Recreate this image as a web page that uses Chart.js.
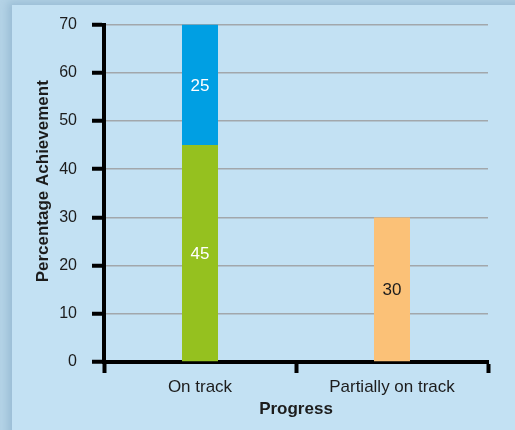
<!DOCTYPE html>
<html>
<head>
<meta charset="utf-8">
<script src="https://cdn.jsdelivr.net/npm/chart.js@4/dist/chart.umd.min.js"></script>
<style>
  html, body { margin: 0; padding: 0; }
  body { width: 515px; height: 430px; background: #b4d3e6; position: relative; overflow: hidden; }
  #panel { position: absolute; left: 12px; top: 5px; width: 520px; height: 440px; background: #c3e1f3;
           box-shadow: -4px -3px 8px rgba(120,160,190,0.45); }
  #wrap { position: absolute; left: 0; top: 0; width: 515px; height: 430px; }
</style>
</head>
<body>
<div id="panel"></div>
<div id="wrap"><canvas id="c" width="515" height="430"></canvas></div>
<script>
const categories = ['On track', 'Partially on track'];
const onTrackBase = [45, null];
const onTrackTop = [25, null];
const partial = [null, 30];
const yTicks = [0, 10, 20, 30, 40, 50, 60, 70];
const yTitle = 'Percentage Achievement';
const xTitle = 'Progress';

const FONT = '"Liberation Sans", Arial, Helvetica, sans-serif';
const TEXT = '#1c1c1c';

// Writes each segment's value in the middle of its bar
const barLabels = {
  id: 'barLabels',
  afterDatasetsDraw(chart) {
    const ctx = chart.ctx;
    ctx.save();
    ctx.font = '17px ' + FONT;
    ctx.textAlign = 'center';
    ctx.textBaseline = 'middle';
    chart.data.datasets.forEach((ds, i) => {
      const meta = chart.getDatasetMeta(i);
      meta.data.forEach((bar, j) => {
        const v = ds.data[j];
        if (v == null) return;
        const cy = (bar.y + bar.base) / 2;
        ctx.fillStyle = ds.labelColor;
        ctx.fillText(String(v), bar.x, cy + 1);
      });
    });
    ctx.restore();
  }
};

// Vertical axis title, sitting a little above the middle of the value axis
const sideTitle = {
  id: 'sideTitle',
  afterDraw(chart) {
    const y = chart.scales.y;
    const ctx = chart.ctx;
    ctx.save();
    ctx.font = 'bold 17px ' + FONT;
    ctx.fillStyle = TEXT;
    ctx.textAlign = 'center';
    ctx.textBaseline = 'middle';
    ctx.translate(y.left + 10, y.getPixelForValue(37.5));
    ctx.rotate(-Math.PI / 2);
    ctx.fillText(yTitle, 0, 0);
    ctx.restore();
  }
};

new Chart(document.getElementById('c'), {
  type: 'bar',
  data: {
    labels: categories,
    datasets: [
      { data: onTrackBase, backgroundColor: '#95c11f', labelColor: '#ffffff' },
      { data: onTrackTop, backgroundColor: '#009fe3', labelColor: '#ffffff' },
      { data: partial, backgroundColor: '#fbc177', labelColor: TEXT }
    ]
  },
  options: {
    responsive: false,
    animation: false,
    devicePixelRatio: 1,
    layout: { padding: { top: 24, right: 27, bottom: 10, left: 33 } },
    plugins: { legend: { display: false }, tooltip: { enabled: false } },
    datasets: { bar: { categoryPercentage: 1, barPercentage: 0.1875 } },
    scales: {
      x: {
        stacked: true,
        afterFit(scale) { scale.height = 58; },
        grid: { display: true, drawOnChartArea: false, offset: true, color: '#000', tickColor: '#000', tickWidth: 4, tickLength: 11 },
        border: { display: true, color: '#000', width: 4 },
        ticks: { color: TEXT, font: { family: FONT, size: 17 }, padding: 4 },
        title: { display: true, text: xTitle, color: TEXT, font: { family: FONT, size: 17, weight: 'bold' }, padding: { top: 0, bottom: 0 } }
      },
      y: {
        stacked: true,
        min: 0, max: 70,
        afterBuildTicks(scale) { scale.ticks = yTicks.map(v => ({ value: v })); },
        afterFit(scale) { scale.width = 71; },
        grid: { color: (c) => c.tick && c.tick.value === 0 ? 'rgba(0,0,0,0)' : '#a2a7ab', lineWidth: 1.5, tickColor: '#000', tickWidth: 4, tickLength: 12 },
        border: { display: true, color: '#000', width: 4 },
        ticks: { color: TEXT, font: { family: FONT, size: 16 }, padding: 15 }
      }
    }
  },
  plugins: [barLabels, sideTitle]
});
</script>
</body>
</html>
